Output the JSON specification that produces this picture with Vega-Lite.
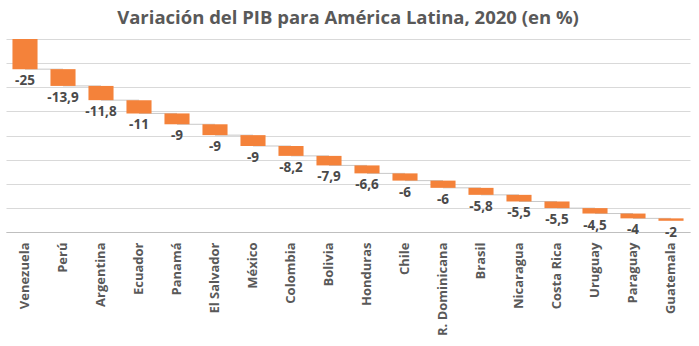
{
  "$schema": "https://vega.github.io/schema/vega-lite/v6.json",
  "autosize": "none",
  "width": 684,
  "height": 193,
  "padding": {"left": 6, "top": 39, "right": 9, "bottom": 114},
  "background": "white",
  "title": {
    "text": "Variación del PIB para América Latina, 2020 (en %)",
    "font": "Open Sans",
    "fontSize": 18.5,
    "fontWeight": "bold",
    "color": "#595959",
    "anchor": "middle",
    "offset": 12
  },
  "config": {
    "view": {"stroke": null},
    "locale": {
      "number": {"decimal": ",", "thousands": ".", "grouping": [3], "currency": ["", " €"], "minus": "-"}
    }
  },
  "data": {
    "values": [
      {"country": "Venezuela", "value": -25},
      {"country": "Perú", "value": -13.9},
      {"country": "Argentina", "value": -11.8},
      {"country": "Ecuador", "value": -11},
      {"country": "Panamá", "value": -9},
      {"country": "El Salvador", "value": -9},
      {"country": "México", "value": -9},
      {"country": "Colombia", "value": -8.2},
      {"country": "Bolivia", "value": -7.9},
      {"country": "Honduras", "value": -6.6},
      {"country": "Chile", "value": -6},
      {"country": "R. Dominicana", "value": -6},
      {"country": "Brasil", "value": -5.8},
      {"country": "Nicaragua", "value": -5.5},
      {"country": "Costa Rica", "value": -5.5},
      {"country": "Uruguay", "value": -4.5},
      {"country": "Paraguay", "value": -4},
      {"country": "Guatemala", "value": -2}
    ]
  },
  "transform": [
    {"window": [{"op": "sum", "field": "value", "as": "end"}, {"op": "lead", "field": "country", "as": "next"}], "frame": [null, 0]},
    {"calculate": "datum.end - datum.value", "as": "start"}
  ],
  "encoding": {
    "x": {
      "field": "country",
      "type": "nominal",
      "sort": null,
      "scale": {"paddingInner": 0.34, "paddingOuter": 0.17},
      "axis": {
        "title": null,
        "labelAngle": -90,
        "labelFont": "Open Sans",
        "labelFontSize": 13,
        "labelFontWeight": "bold",
        "labelColor": "#595959",
        "labelPadding": 10,
        "ticks": false,
        "domainColor": "#bfbfbf",
        "domainWidth": 1
      }
    },
    "y": {
      "field": "end",
      "type": "quantitative",
      "scale": {"domain": [-160, 0], "nice": false},
      "axis": {
        "title": null,
        "values": [0, -20, -40, -60, -80, -100, -120, -140, -160],
        "labels": false,
        "ticks": false,
        "domain": false,
        "grid": true,
        "gridColor": "#d9d9d9",
        "gridWidth": 1
      }
    }
  },
  "layer": [
    {
      "mark": {"type": "rule", "color": "#c8c8c8", "strokeWidth": 1},
      "transform": [{"filter": "datum.next != null"}],
      "encoding": {
        "x2": {"field": "next"}
      }
    },
    {
      "mark": {"type": "bar", "color": "#F4823A"},
      "encoding": {
        "y2": {"field": "start"}
      }
    },
    {
      "mark": {"type": "text", "font": "Open Sans", "fontSize": 13.5, "fontWeight": "bold", "color": "#4a4a4a", "baseline": "middle", "dy": 12},
      "encoding": {
        "text": {"field": "value", "type": "quantitative", "format": "~g"}
      }
    }
  ]
}
